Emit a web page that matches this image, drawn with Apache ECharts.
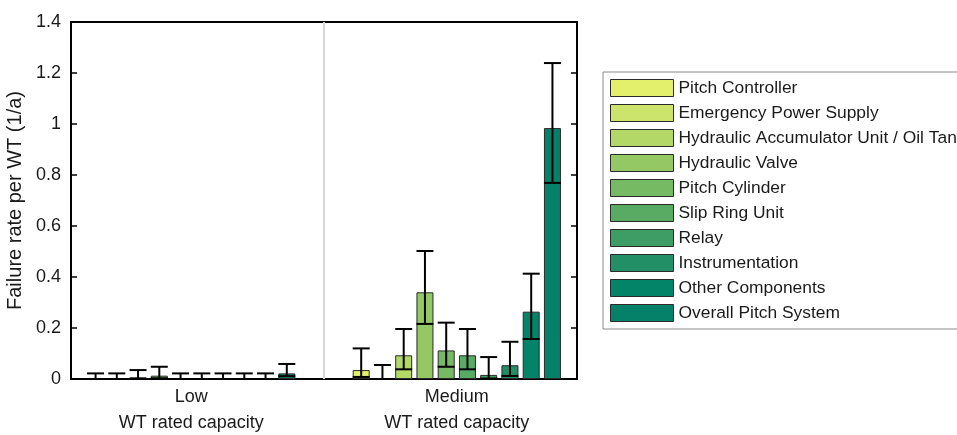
<!DOCTYPE html>
<html>
<head>
<meta charset="utf-8">
<script src="https://cdn.jsdelivr.net/npm/echarts@6/dist/echarts.min.js"></script>
<style>
  html, body { margin: 0; padding: 0; background: #fff; }
  #chart { width: 957px; height: 435px; }
</style>
</head>
<body>
<div id="chart"></div>
<script>
// ---- data ----
const categories = ['Low', 'Medium'];
const components = [
  'Pitch Controller',
  'Emergency Power Supply',
  'Hydraulic Accumulator Unit / Oil Tank',
  'Hydraulic Valve',
  'Pitch Cylinder',
  'Slip Ring Unit',
  'Relay',
  'Instrumentation',
  'Other Components',
  'Overall Pitch System'
];
const lowValues    = [0, 0, 0.007, 0.013, 0, 0, 0, 0, 0, 0.022];
const lowLower     = [0, 0, 0, 0.003, 0, 0, 0, 0, 0, 0.011];
const lowUpper     = [0.022, 0.022, 0.035, 0.048, 0.022, 0.022, 0.022, 0.022, 0.022, 0.059];
const mediumValues = [0.035, 0, 0.093, 0.34, 0.112, 0.093, 0.016, 0.054, 0.264, 0.984];
const mediumLower  = [0.008, 0, 0.038, 0.216, 0.048, 0.038, 0.002, 0.012, 0.157, 0.769];
const mediumUpper  = [0.12, 0.055, 0.196, 0.502, 0.221, 0.196, 0.086, 0.146, 0.413, 1.239];
const yTicks = [0, 0.2, 0.4, 0.6, 0.8, 1, 1.2, 1.4];

// ---- layout / style ----
const groupPos = [0.975, 2.025];   // group centres on the x value scale
const colors = ['#e3f06b', '#cde46c', '#b3d868', '#93c865', '#76ba63',
                '#59ab63', '#3d9d65', '#238f67', '#038469', '#068169'];
const BAR_W = 17, BAR_GAP = 0.25;
const PITCH = BAR_W * (1 + BAR_GAP);
const FONT = 'Liberation Sans, Arial, Helvetica, sans-serif';

const valueSets = [lowValues, mediumValues];
const lowerSets = [lowLower, mediumLower];
const upperSets = [lowUpper, mediumUpper];

const barSeries = components.map((name, i) => ({
  name,
  type: 'bar',
  barWidth: BAR_W,
  barGap: (BAR_GAP * 100) + '%',
  itemStyle: { color: colors[i], borderColor: '#2a2a2a', borderWidth: 1 },
  data: categories.map((c, g) => [groupPos[g], valueSets[g][i]]),
  z: 2
}));

const errData = [];
categories.forEach((c, g) => {
  components.forEach((n, i) => {
    errData.push([groupPos[g], i, lowerSets[g][i], upperSets[g][i]]);
  });
});

const errSeries = {
  name: 'error',
  type: 'custom',
  z: 5,
  silent: true,
  data: errData,
  encode: { x: 0, y: [2, 3] },
  renderItem: function (params, api) {
    const xv = api.value(0), idx = api.value(1);
    const lo = api.coord([xv, api.value(2)]);
    const hi = api.coord([xv, api.value(3)]);
    const x = lo[0] + (idx - (components.length - 1) / 2) * PITCH;
    const hw = BAR_W / 2;
    const style = { stroke: '#000', lineWidth: 2 };
    return {
      type: 'group',
      children: [
        { type: 'line', shape: { x1: x, y1: lo[1], x2: x, y2: hi[1] }, style },
        { type: 'line', shape: { x1: x - hw, y1: hi[1], x2: x + hw, y2: hi[1] }, style },
        { type: 'line', shape: { x1: x - hw, y1: lo[1], x2: x + hw, y2: lo[1] }, style }
      ]
    };
  }
};

const dividerSeries = {
  name: 'divider',
  type: 'line',
  data: [],
  markLine: {
    silent: true,
    symbol: ['none', 'none'],
    label: { show: false },
    lineStyle: { color: '#d6d6d6', width: 2, type: 'solid' },
    data: [{ xAxis: 1.5 }]
  },
  z: 1
};

const chart = echarts.init(document.getElementById('chart'), null, { renderer: 'canvas' });
chart.setOption({
  animation: false,
  backgroundColor: '#fff',
  textStyle: { fontFamily: FONT },
  grid: {
    left: 71, right: 380, top: 22, bottom: 56,
    outerBoundsMode: 'none', containLabel: false,
    show: true, borderColor: '#000', borderWidth: 2, backgroundColor: 'transparent'
  },
  legend: {
    orient: 'vertical',
    left: 603, top: 72,
    padding: [7, 7, 7, 7],
    itemWidth: 63, itemHeight: 17, itemGap: 7,
    borderColor: '#8a8a8a', borderWidth: 1,
    icon: 'rect',
    itemStyle: { borderColor: '#2a2a2a', borderWidth: 1 },
    data: components,
    textStyle: { fontFamily: FONT, fontSize: 17.4, color: '#1a1a1a' },
    selectedMode: false
  },
  xAxis: {
    type: 'value',
    min: 0.5, max: 2.5,
    axisLine: { show: true, lineStyle: { color: '#000', width: 2 } },
    axisTick: { show: false },
    splitLine: { show: false },
    axisLabel: {
      customValues: groupPos,
      formatter: function (v) {
        let k = 0, best = Infinity;
        groupPos.forEach((p, j) => { if (Math.abs(p - v) < best) { best = Math.abs(p - v); k = j; } });
        return categories[k] + '\nWT rated capacity';
      },
      fontFamily: FONT, fontSize: 18, color: '#1a1a1a',
      lineHeight: 26, margin: 5
    }
  },
  yAxis: [
    {
      type: 'value', position: 'left',
      min: 0, max: 1.4, interval: 0.2,
      name: 'Failure rate per WT (1/a)',
      nameLocation: 'middle', nameGap: 17,
      nameTextStyle: { fontFamily: FONT, fontSize: 20, color: '#1a1a1a' },
      axisLine: { show: true, lineStyle: { color: '#000', width: 2 } },
      axisTick: { show: true, inside: true, length: 6, lineStyle: { color: '#000', width: 1.5 } },
      splitLine: { show: false },
      axisLabel: {
        fontFamily: FONT, fontSize: 18, color: '#1a1a1a', margin: 10,
        formatter: function (v) { return String(+v.toFixed(1)); }
      }
    },
    {
      type: 'value', position: 'right',
      min: 0, max: 1.4, interval: 0.2,
      axisLine: { show: true, lineStyle: { color: '#000', width: 2 } },
      axisTick: { show: true, inside: true, length: 6, lineStyle: { color: '#000', width: 1.5 } },
      splitLine: { show: false },
      axisLabel: { show: false }
    }
  ],
  series: [dividerSeries].concat(barSeries, [errSeries])
});
</script>
</body>
</html>
